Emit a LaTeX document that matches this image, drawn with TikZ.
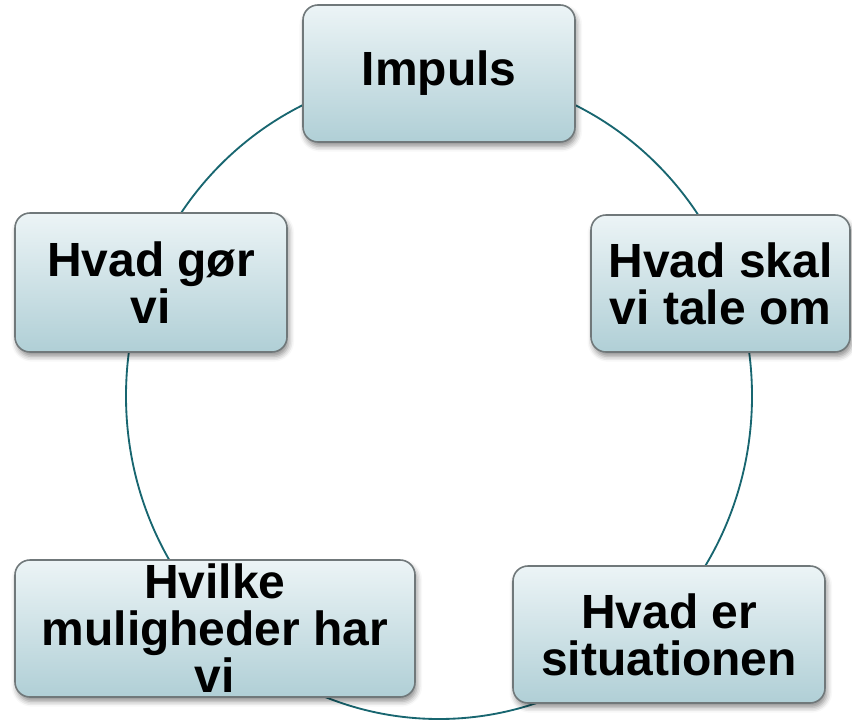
\documentclass[tikz,border=0pt]{standalone}
\usepackage{fontspec}
\setmainfont{Liberation Sans}
\usetikzlibrary{shadows.blur}

\definecolor{ringteal}{RGB}{24,102,112}
\definecolor{boxtop}{RGB}{236,244,246}
\definecolor{boxbottom}{RGB}{176,207,214}
\definecolor{boxline}{RGB}{112,120,122}

\tikzset{
    cyclebox/.style={draw=boxline, line width=0.9pt, rounded corners=0.3cm,
        top color=boxtop, bottom color=boxbottom, align=center,
        minimum height=2.74cm, inner sep=0pt,
        font=\fontsize{27.3pt}{26.8pt}\selectfont\bfseries,
        blur shadow={shadow xshift=1pt, shadow yshift=-2.5pt,
            shadow blur radius=3pt, shadow opacity=45}},
    ring/.style={draw=ringteal, line width=1.05pt}
}

\begin{document}
\begin{tikzpicture}
    \useasboundingbox (0,0) rectangle (17.04,14.4);

    % Ring behind the boxes
    \coordinate (centre) at (8.78,6.48);
    \draw[ring] (centre) ellipse (6.26 and 6.46);

    % Boxes, clockwise from the top
    \node[cyclebox, minimum width=5.44cm] (impuls) at (8.78,12.93) {Impuls};
    \node[cyclebox, minimum width=5.18cm] (tale) at (14.41,8.73) {Hvad skal\\vi tale om};
    \node[cyclebox, minimum width=6.24cm] (situation) at (13.38,1.71) {Hvad er\\situationen};
    \node[cyclebox, minimum width=8.0cm] (muligheder) at (4.30,1.83) {Hvilke\\muligheder har\\vi};
    \node[cyclebox, minimum width=5.44cm, minimum height=2.78cm] (gor) at (3.02,8.75) {Hvad gør\\vi};
\end{tikzpicture}
\end{document}
